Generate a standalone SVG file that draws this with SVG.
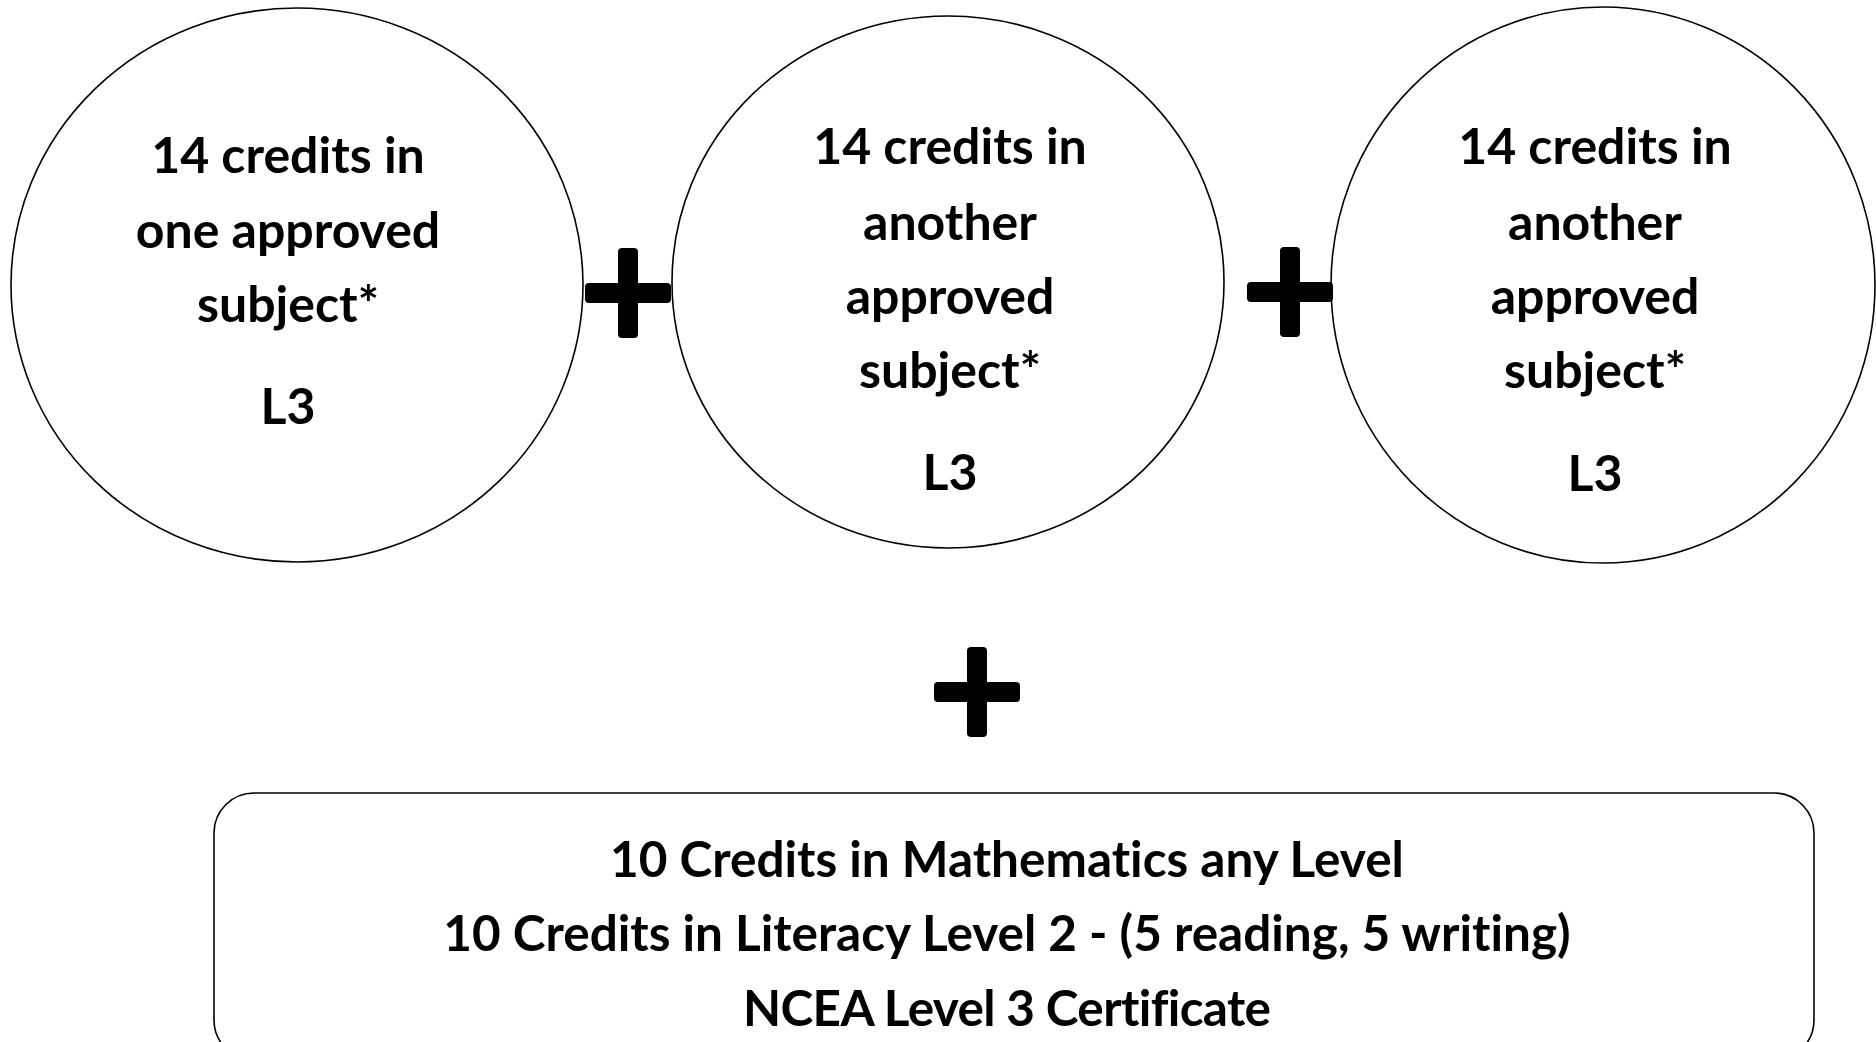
<svg xmlns="http://www.w3.org/2000/svg" width="1876" height="1042" viewBox="0 0 1876 1042">
<style>
.node{fill:#fff;stroke:#000;stroke-width:1.6}
.t{font-family:Lato,"Open Sans","Liberation Sans",sans-serif;font-weight:700;font-size:50px;fill:#000;text-anchor:middle;font-variant-ligatures:none}
.b{font-size:49.5px}
.plus{fill:#000}
</style>
<defs>
<g id="plusSign">
<rect x="-10" y="-45" width="20" height="90" rx="4"/>
<rect x="-43" y="-10" width="86" height="20" rx="4"/>
</g>
</defs>
<rect width="1876" height="1042" fill="#fff"/>
<g id="node-subject1">
<ellipse class="node" cx="297" cy="285" rx="286" ry="277"/>
<text class="t" x="288" y="173">14 credits in</text>
<text class="t" x="288" y="248">one approved</text>
<text class="t" x="288" y="322">subject*</text>
<text class="t" x="288" y="424">L3</text>
</g>
<g id="node-subject2">
<ellipse class="node" cx="948" cy="282" rx="276" ry="266"/>
<text class="t" x="950" y="164">14 credits in</text>
<text class="t" x="950" y="240">another</text>
<text class="t" x="950" y="314">approved</text>
<text class="t" x="950" y="388">subject*</text>
<text class="t" x="950" y="490">L3</text>
</g>
<g id="node-subject3">
<ellipse class="node" cx="1603" cy="285" rx="272" ry="278"/>
<text class="t" x="1595" y="164">14 credits in</text>
<text class="t" x="1595" y="240">another</text>
<text class="t" x="1595" y="314">approved</text>
<text class="t" x="1595" y="388">subject*</text>
<text class="t" x="1595" y="491">L3</text>
</g>
<g id="node-requirements">
<rect class="node" x="214" y="793" width="1600" height="267" rx="40"/>
<text class="t b" x="1007" y="877">10 Credits in Mathematics any Level</text>
<text class="t b" x="1007" y="951">10 Credits in Literacy Level 2 - (5 reading, 5 writing)</text>
<text class="t b" x="1007" y="1026" textLength="528">NCEA Level 3 Certificate</text>
</g>
<g id="connectors" class="plus">
<use href="#plusSign" x="628" y="293"/>
<use href="#plusSign" x="1290" y="292"/>
<use href="#plusSign" x="977" y="692"/>
</g>
</svg>
